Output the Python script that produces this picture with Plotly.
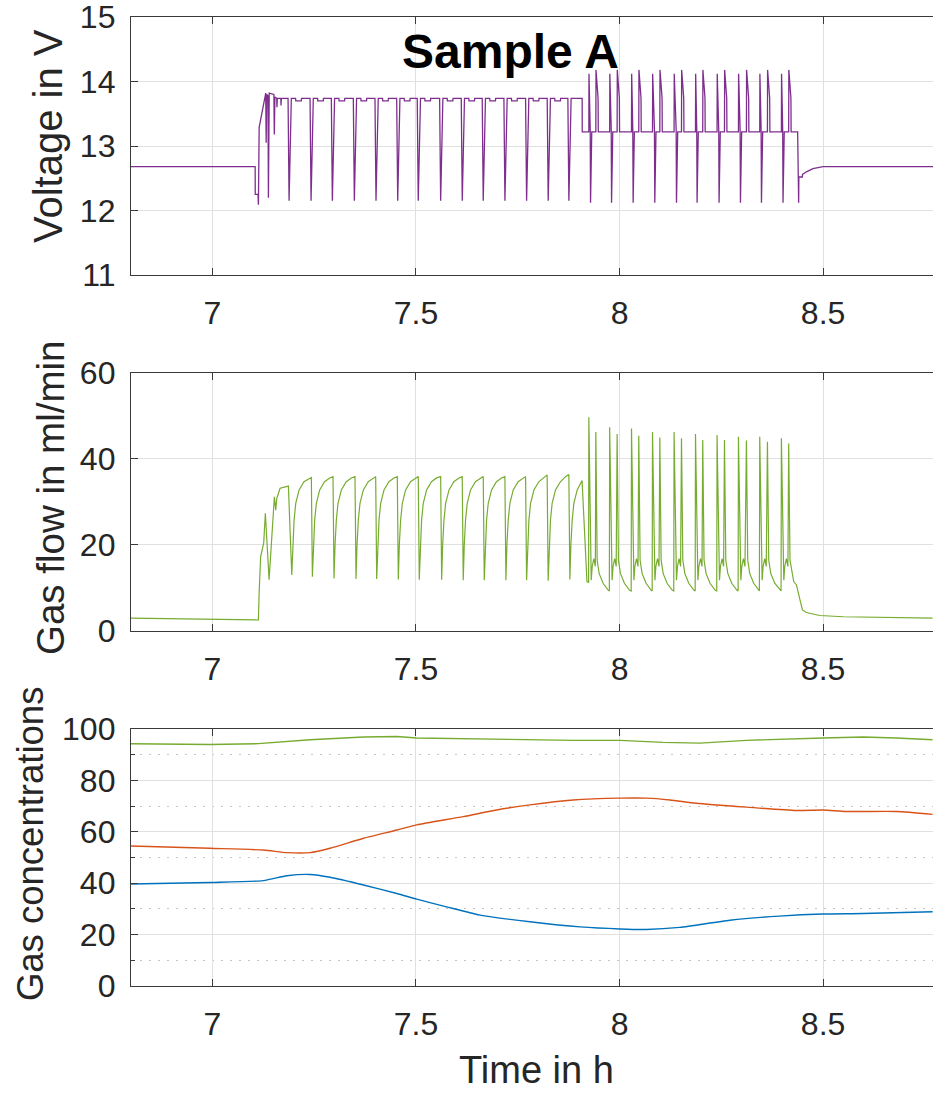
import plotly.graph_objects as go

# ---------------- data ----------------
# Voltage in V vs time in h  (t, V) vertices
volt_pts = [
    (6.800, 12.68), (7.105, 12.68), (7.1052, 12.25), (7.112, 12.25), (7.113, 12.09), (7.1148, 13.29),
    (7.131, 13.82), (7.132, 13.05), (7.1335, 13.80), (7.1365, 13.78), (7.1375, 12.20), (7.1395, 13.82),
    (7.151, 13.80), (7.152, 13.18), (7.1535, 13.76), (7.158, 13.74), (7.1585, 13.60), (7.1595, 13.74),
    (7.168, 13.74), (7.1685, 13.63), (7.1695, 13.74),
    (7.1858, 13.74), (7.1883, 12.15), (7.1938, 13.74), (7.2043, 13.74), (7.2048, 13.70), (7.2183, 13.70), (7.2188, 13.74),
    (7.2398, 13.74), (7.2423, 12.15), (7.2478, 13.74), (7.2583, 13.74), (7.2588, 13.70), (7.2723, 13.70), (7.2728, 13.74),
    (7.2921, 13.74), (7.2946, 12.15), (7.3001, 13.74), (7.3106, 13.74), (7.3111, 13.70), (7.3246, 13.70), (7.3251, 13.74),
    (7.3461, 13.74), (7.3486, 12.15), (7.3541, 13.74), (7.3646, 13.74), (7.3651, 13.70), (7.3786, 13.70), (7.3791, 13.74),
    (7.3993, 13.74), (7.4018, 12.15), (7.4073, 13.74), (7.4178, 13.74), (7.4183, 13.70), (7.4318, 13.70), (7.4323, 13.74),
    (7.4526, 13.74), (7.4551, 12.15), (7.4606, 13.74), (7.4711, 13.74), (7.4716, 13.70), (7.4851, 13.70), (7.4856, 13.74),
    (7.5031, 13.74), (7.5056, 12.15), (7.5111, 13.74), (7.5216, 13.74), (7.5221, 13.70), (7.5356, 13.70), (7.5361, 13.74),
    (7.5581, 13.74), (7.5606, 12.15), (7.5661, 13.74), (7.5766, 13.74), (7.5771, 13.70), (7.5906, 13.70), (7.5911, 13.74),
    (7.6112, 13.74), (7.6137, 12.15), (7.6192, 13.74), (7.6297, 13.74), (7.6302, 13.70), (7.6437, 13.70), (7.6442, 13.74),
    (7.6627, 13.74), (7.6652, 12.15), (7.6707, 13.74), (7.6812, 13.74), (7.6817, 13.70), (7.6952, 13.70), (7.6957, 13.74),
    (7.7160, 13.74), (7.7185, 12.15), (7.7240, 13.74), (7.7345, 13.74), (7.7350, 13.70), (7.7485, 13.70), (7.7490, 13.74),
    (7.7692, 13.74), (7.7717, 12.15), (7.7772, 13.74), (7.7877, 13.74), (7.7882, 13.70), (7.8017, 13.70), (7.8022, 13.74),
    (7.8223, 13.74), (7.8248, 12.15), (7.8303, 13.74), (7.8408, 13.74), (7.8413, 13.70), (7.8548, 13.70), (7.8553, 13.74),
    (7.8731, 13.74), (7.8756, 12.15), (7.8811, 13.74), (7.9082, 13.74), (7.9084, 13.22),
    (7.9246, 13.22), (7.9250, 14.12), (7.9280, 13.25), (7.9288, 12.12), (7.9318, 13.22), (7.9418, 13.22), (7.9422, 14.18), (7.9473, 13.74), (7.9478, 13.22),
    (7.9758, 13.22), (7.9762, 14.12), (7.9796, 13.25), (7.9804, 12.12), (7.9834, 13.22), (7.9941, 13.22), (7.9945, 14.18), (7.9996, 13.74), (8.0001, 13.22),
    (8.0294, 13.22), (8.0298, 14.12), (8.0326, 13.25), (8.0334, 12.12), (8.0364, 13.22), (8.0473, 13.22), (8.0477, 14.18), (8.0528, 13.74), (8.0533, 13.22),
    (8.0810, 13.22), (8.0814, 14.12), (8.0858, 13.25), (8.0866, 12.12), (8.0896, 13.22), (8.0990, 13.22), (8.0994, 14.18), (8.1045, 13.74), (8.1050, 13.22),
    (8.1340, 13.22), (8.1344, 14.12), (8.1391, 13.25), (8.1399, 12.12), (8.1429, 13.22), (8.1522, 13.22), (8.1526, 14.18), (8.1577, 13.74), (8.1582, 13.22),
    (8.1866, 13.22), (8.1870, 14.12), (8.1897, 13.25), (8.1905, 12.12), (8.1935, 13.22), (8.2044, 13.22), (8.2048, 14.18), (8.2099, 13.74), (8.2104, 13.22),
    (8.2396, 13.22), (8.2400, 14.12), (8.2437, 13.25), (8.2445, 12.12), (8.2475, 13.22), (8.2578, 13.22), (8.2582, 14.18), (8.2633, 13.74), (8.2638, 13.22),
    (8.2921, 13.22), (8.2925, 14.12), (8.2962, 13.25), (8.2970, 12.12), (8.3000, 13.22), (8.3117, 13.22), (8.3121, 14.18), (8.3172, 13.74), (8.3177, 13.22),
    (8.3444, 13.22), (8.3448, 14.12), (8.3478, 13.25), (8.3486, 12.12), (8.3516, 13.22), (8.3633, 13.22), (8.3637, 14.18), (8.3688, 13.74), (8.3693, 13.22),
    (8.3976, 13.22), (8.3980, 14.12), (8.4008, 13.25), (8.4016, 12.12), (8.4046, 13.22), (8.4155, 13.22), (8.4159, 14.18), (8.4210, 13.74), (8.4215, 13.22),
    (8.4375, 13.22), (8.4384, 12.12), (8.4400, 12.12), (8.4405, 12.52), (8.4490, 12.52), (8.4495, 12.56),
    (8.4590, 12.60), (8.4750, 12.65), (8.5000, 12.68), (8.7700, 12.68),
]

# Gas flow in ml/min vs time in h  (t, flow) vertices
gas_pts = [
    (6.798, 3.0), (6.994, 2.7), (7.105, 2.45), (7.113, 2.55), (7.1148, 9.0), (7.1185, 17.3), (7.126, 20.5),
    (7.1300, 27.4), (7.1392, 11.9), (7.1458, 21.9), (7.1522, 31.2), (7.1556, 28.1), (7.158, 30.8),
    (7.1662, 33.2), (7.1866, 33.7),
    (7.1949, 13.0), (7.1974, 20.0), (7.2006, 25.8), (7.2047, 29.7), (7.2129, 32.8), (7.2249, 34.7), (7.2374, 35.5), (7.2430, 35.7),
    (7.2455, 12.6), (7.2480, 20.0), (7.2512, 25.8), (7.2553, 29.7), (7.2635, 32.8), (7.2755, 34.7), (7.2880, 35.6), (7.2962, 35.9),
    (7.2987, 12.2), (7.3012, 20.0), (7.3044, 25.8), (7.3085, 29.7), (7.3167, 32.8), (7.3287, 34.7), (7.3412, 35.6), (7.3502, 35.9),
    (7.3527, 12.1), (7.3552, 20.0), (7.3584, 25.8), (7.3625, 29.7), (7.3707, 32.8), (7.3827, 34.7), (7.3952, 35.6), (7.4010, 35.9),
    (7.4035, 12.1), (7.4060, 20.0), (7.4092, 25.8), (7.4133, 29.7), (7.4215, 32.8), (7.4335, 34.7), (7.4460, 35.6), (7.4541, 35.9),
    (7.4566, 12.0), (7.4591, 20.0), (7.4623, 25.8), (7.4664, 29.7), (7.4746, 32.8), (7.4866, 34.7), (7.4991, 35.6), (7.5056, 35.9),
    (7.5081, 11.9), (7.5106, 20.0), (7.5138, 25.8), (7.5179, 29.7), (7.5261, 32.8), (7.5381, 34.7), (7.5506, 35.6), (7.5606, 35.9),
    (7.5631, 11.9), (7.5656, 20.0), (7.5688, 25.8), (7.5729, 29.7), (7.5811, 32.8), (7.5931, 34.7), (7.6056, 35.6), (7.6136, 35.9),
    (7.6161, 11.8), (7.6186, 20.0), (7.6218, 25.8), (7.6259, 29.7), (7.6341, 32.8), (7.6461, 34.7), (7.6586, 35.6), (7.6652, 35.9),
    (7.6677, 11.8), (7.6702, 20.0), (7.6734, 25.8), (7.6775, 29.7), (7.6857, 32.8), (7.6977, 34.7), (7.7102, 35.6), (7.7184, 35.9),
    (7.7209, 11.8), (7.7234, 20.0), (7.7266, 25.8), (7.7307, 29.7), (7.7389, 32.8), (7.7509, 34.7), (7.7634, 35.6), (7.7692, 35.9),
    (7.7717, 11.8), (7.7742, 20.0), (7.7774, 25.8), (7.7815, 29.7), (7.7897, 32.8), (7.8017, 34.7), (7.8142, 35.8), (7.8222, 36.3),
    (7.8247, 11.7), (7.8272, 20.0), (7.8304, 25.8), (7.8345, 29.7), (7.8427, 32.8), (7.8547, 34.7), (7.8672, 35.9), (7.8755, 36.4),
    (7.8780, 12.0), (7.8805, 20.0), (7.8837, 25.8), (7.8878, 29.7), (7.8960, 32.8), (7.9080, 35.0),
    (7.9200, 11.5),
    (7.9240, 11.3), (7.9246, 49.7), (7.9305, 11.8), (7.9329, 15.0), (7.9369, 16.8), (7.9406, 15.0), (7.9418, 46.3), (7.9450, 16.5), (7.9499, 13.4), (7.9597, 11.1), (7.9720, 9.5),
    (7.9750, 9.3), (7.9758, 47.4), (7.9817, 11.8), (7.9841, 15.0), (7.9881, 16.8), (7.9918, 15.0), (7.9941, 45.8), (7.9973, 16.5), (8.0022, 13.4), (8.0120, 11.1), (8.0243, 9.5),
    (8.0286, 9.3), (8.0294, 47.1), (8.0353, 11.8), (8.0377, 15.0), (8.0417, 16.8), (8.0454, 15.0), (8.0473, 45.4), (8.0505, 16.5), (8.0554, 13.4), (8.0652, 11.1), (8.0775, 9.5),
    (8.0802, 9.3), (8.0810, 46.3), (8.0869, 11.8), (8.0893, 15.0), (8.0933, 16.8), (8.0970, 15.0), (8.0990, 45.0), (8.1022, 16.5), (8.1071, 13.4), (8.1169, 11.1), (8.1292, 9.5),
    (8.1332, 9.3), (8.1340, 46.3), (8.1399, 11.8), (8.1423, 15.0), (8.1463, 16.8), (8.1500, 15.0), (8.1522, 44.8), (8.1554, 16.5), (8.1603, 13.4), (8.1701, 11.1), (8.1824, 9.5),
    (8.1858, 9.3), (8.1866, 45.8), (8.1925, 11.8), (8.1949, 15.0), (8.1989, 16.8), (8.2026, 15.0), (8.2044, 44.4), (8.2076, 16.5), (8.2125, 13.4), (8.2223, 11.1), (8.2346, 9.5),
    (8.2388, 9.3), (8.2396, 45.6), (8.2455, 11.8), (8.2479, 15.0), (8.2519, 16.8), (8.2556, 15.0), (8.2578, 44.4), (8.2610, 16.5), (8.2659, 13.4), (8.2757, 11.1), (8.2880, 9.5),
    (8.2913, 9.3), (8.2921, 45.2), (8.2980, 11.8), (8.3004, 15.0), (8.3044, 16.8), (8.3081, 15.0), (8.3117, 44.3), (8.3149, 16.5), (8.3198, 13.4), (8.3296, 11.1), (8.3419, 9.5),
    (8.3436, 9.3), (8.3444, 45.2), (8.3503, 11.8), (8.3527, 15.0), (8.3567, 16.8), (8.3604, 15.0), (8.3633, 44.0), (8.3665, 16.5), (8.3714, 13.4), (8.3812, 11.1), (8.3935, 9.5),
    (8.3968, 9.3), (8.3976, 44.8), (8.4035, 11.8), (8.4059, 15.0), (8.4099, 16.8), (8.4136, 15.0), (8.4155, 43.6), (8.4187, 16.5),
    (8.4222, 14.2), (8.4279, 11.5), (8.4345, 10.7), (8.4385, 9.1), (8.4443, 6.4), (8.4492, 4.9), (8.4590, 4.3),
    (8.4917, 3.6), (8.5500, 3.3), (8.7690, 3.0),
]

# Gas concentrations in % vs time in h
conc_green_t = [6.798, 6.994, 7.113, 7.240, 7.371, 7.453, 7.502, 7.616, 7.780, 7.886, 8.001, 8.107, 8.197, 8.312, 8.500, 8.598, 8.680, 8.769]
conc_green_v = [94.3, 94.0, 94.3, 95.8, 96.9, 97.1, 96.5, 96.2, 95.6, 95.6, 95.6, 94.8, 94.5, 95.6, 96.5, 96.9, 96.5, 95.8]

conc_orange_t = [6.798, 6.994, 7.125, 7.183, 7.240, 7.289, 7.371, 7.453, 7.502, 7.616, 7.698, 7.780, 7.886, 8.001, 8.066, 8.124, 8.189, 8.312, 8.434, 8.500, 8.557, 8.680, 8.769]
conc_orange_v = [54.5, 53.6, 52.9, 51.9, 51.9, 53.6, 57.5, 60.7, 62.7, 65.9, 68.5, 70.5, 72.4, 73.1, 73.1, 72.4, 71.1, 69.6, 68.3, 68.5, 67.9, 67.9, 66.8]

conc_blue_t = [6.798, 6.994, 7.125, 7.183, 7.240, 7.289, 7.371, 7.453, 7.502, 7.575, 7.657, 7.780, 7.903, 8.001, 8.066, 8.148, 8.271, 8.393, 8.500, 8.598, 8.769]
conc_blue_v = [39.7, 40.3, 41.0, 42.9, 43.4, 42.3, 39.3, 36.0, 33.8, 30.8, 27.6, 25.0, 23.0, 22.2, 22.0, 22.8, 25.6, 27.2, 28.0, 28.2, 28.9]

x_tickvals = [7, 7.5, 8, 8.5]
x_ticktext = ["7", "7.5", "8", "8.5"]

# ---------------- figure ----------------
PURPLE = "#7E2F8E"
GREEN = "#77AC30"
ORANGE = "#D95319"
BLUE = "#0072BD"
AXC = "#3a3a3a"
GRID = "#e0e0e0"
FONT = "Liberation Sans, Arial, sans-serif"

vt, vv = zip(*volt_pts)
gt, gv = zip(*gas_pts)

fig = go.Figure()
fig.add_trace(go.Scatter(x=vt, y=vv, mode="lines", line=dict(color=PURPLE, width=1.3),
                         xaxis="x", yaxis="y", showlegend=False))
fig.add_trace(go.Scatter(x=gt, y=gv, mode="lines", line=dict(color=GREEN, width=1.2),
                         xaxis="x2", yaxis="y2", showlegend=False))
fig.add_trace(go.Scatter(x=conc_green_t, y=conc_green_v, mode="lines", line=dict(color=GREEN, width=1.4),
                         xaxis="x3", yaxis="y3", showlegend=False))
fig.add_trace(go.Scatter(x=conc_orange_t, y=conc_orange_v, mode="lines", line=dict(color=ORANGE, width=1.4, shape="spline", smoothing=0.6),
                         xaxis="x3", yaxis="y3", showlegend=False))
fig.add_trace(go.Scatter(x=conc_blue_t, y=conc_blue_v, mode="lines", line=dict(color=BLUE, width=1.4, shape="spline", smoothing=0.6),
                         xaxis="x3", yaxis="y3", showlegend=False))

tickfont = dict(family=FONT, size=32, color="#262626")

def xax(anchor):
    return dict(anchor=anchor, domain=[0, 1], range=[6.8, 8.77], tickmode="array",
                tickvals=x_tickvals, ticktext=x_ticktext, showgrid=True, gridcolor=GRID, gridwidth=1,
                ticks="inside", ticklen=7, tickwidth=1.3, tickcolor=AXC, showline=True, linecolor=AXC,
                linewidth=1.3, mirror="ticks", zeroline=False, tickfont=tickfont, ticklabelstandoff=9)

def yax(anchor, domain, rng, dtick):
    return dict(anchor=anchor, domain=domain, range=rng, tickmode="linear", tick0=0, dtick=dtick,
                showgrid=True, gridcolor=GRID, gridwidth=1, ticks="inside", ticklen=7, tickwidth=1.3,
                tickcolor=AXC, showline=True, linecolor=AXC, linewidth=1.3, zeroline=False,
                tickfont=tickfont, ticklabelstandoff=8, ticklabeloverflow="allow")

y3 = yax("x3", [0, 0.2652], [0, 100], 20)
y3["minor"] = dict(tickmode="linear", tick0=0, dtick=10, showgrid=True, gridcolor="#c4c4c4",
                   griddash="2px,7px", gridwidth=1, ticks="inside", ticklen=4, tickcolor=AXC)

def tfont(size):
    return dict(family=FONT, size=size, color="#262626")

fig.update_layout(
    width=933, height=1094,
    margin=dict(l=131, r=0, t=17, b=108, pad=0),
    paper_bgcolor="white", plot_bgcolor="white",
    xaxis=xax("y"), yaxis=yax("x", [0.7337, 1.0], [11, 15], 1),
    xaxis2=xax("y2"), yaxis2=yax("x2", [0.3664, 0.6326], [0, 60], 20),
    xaxis3=xax("y3"), yaxis3=y3,
    annotations=[
        dict(text="<b>Sample A</b>", x=0.4726, y=0.9639, xref="paper", yref="paper",
             showarrow=False, font=dict(family=FONT, size=48, color="black"), xanchor="center", yanchor="middle"),
        dict(text="Voltage in V", x=-0.1035, y=0.8772, xref="paper", yref="paper", textangle=-90,
             showarrow=False, font=tfont(40), xanchor="center", yanchor="middle"),
        dict(text="Gas flow in ml/min", x=-0.101, y=0.5046, xref="paper", yref="paper", textangle=-90,
             showarrow=False, font=tfont(38.5), xanchor="center", yanchor="middle"),
        dict(text="Gas concentrations", x=-0.1259, y=0.1465, xref="paper", yref="paper", textangle=-90,
             showarrow=False, font=tfont(36.5), xanchor="center", yanchor="middle"),
        dict(text="Time in h", x=0.5062, y=-0.1095, xref="paper", yref="paper",
             showarrow=False, font=tfont(38), xanchor="center", yanchor="bottom", borderpad=0),
    ],
)

fig.write_html("out.html", config={"displayModeBar": False})
